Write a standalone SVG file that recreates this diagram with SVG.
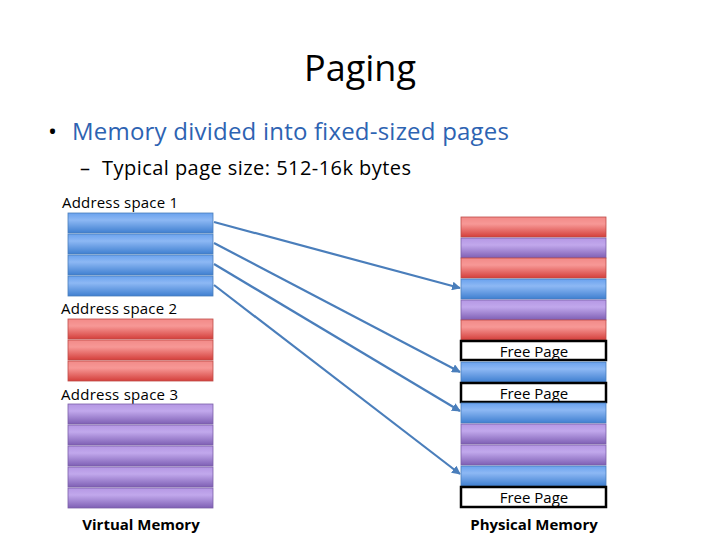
<svg xmlns="http://www.w3.org/2000/svg" width="720" height="540" viewBox="0 0 720 540">
<defs>
<linearGradient id="gb" x1="0" y1="0" x2="0" y2="1"><stop offset="0" stop-color="#6aa2ee"/><stop offset="0.35" stop-color="#8db8f4"/><stop offset="1" stop-color="#3f7fd0"/></linearGradient>
<linearGradient id="gr" x1="0" y1="0" x2="0" y2="1"><stop offset="0" stop-color="#f28a88"/><stop offset="0.35" stop-color="#f79896"/><stop offset="1" stop-color="#d43f3b"/></linearGradient>
<linearGradient id="gp" x1="0" y1="0" x2="0" y2="1"><stop offset="0" stop-color="#b597e4"/><stop offset="0.35" stop-color="#c1a8ec"/><stop offset="1" stop-color="#7e5fb4"/></linearGradient>
<marker id="ah" viewBox="0 0 10 10" refX="9" refY="5" markerWidth="4" markerHeight="4" orient="auto"><path d="M0 0L10 5L0 10z" fill="#4a7ebb"/></marker>
</defs>
<style>
.b{fill:url(#gb);stroke:#4a7ebb;stroke-width:0.8}
.r{fill:url(#gr);stroke:#be4b48;stroke-width:0.8}
.p{fill:url(#gp);stroke:#7a5fa8;stroke-width:0.8}
.f{fill:#fff;stroke:#000;stroke-width:2.5}
.t{font-family:"Open Sans","Liberation Sans",sans-serif;fill:#000}
.c{stroke:#4a7ebb;stroke-width:2.2;fill:none;marker-end:url(#ah)}
</style>
<rect width="720" height="540" fill="#fff"/>
<text class="t" x="360" y="81" font-size="36" text-anchor="middle">Paging</text>
<text class="t" x="48" y="140" font-size="24">•</text>
<text class="t" x="72" y="140" font-size="24" style="fill:#2d63b2" textLength="437">Memory divided into fixed-sized pages</text>
<text class="t" x="80" y="175" font-size="20">–</text>
<text class="t" x="102" y="175" font-size="20" textLength="309">Typical page size: 512-16k bytes</text>
<g id="as1">
<text class="t" x="62" y="208" font-size="15" textLength="116">Address space 1</text>
<rect class="b" x="68" y="213" width="145" height="20"/>
<rect class="b" x="68" y="234" width="145" height="20"/>
<rect class="b" x="68" y="255" width="145" height="20"/>
<rect class="b" x="68" y="276" width="145" height="20"/>
</g>
<g id="as2">
<text class="t" x="61" y="314" font-size="15" textLength="116">Address space 2</text>
<rect class="r" x="68" y="319" width="145" height="20"/>
<rect class="r" x="68" y="340" width="145" height="20"/>
<rect class="r" x="68" y="361" width="145" height="20"/>
</g>
<g id="as3">
<text class="t" x="61" y="400" font-size="15" textLength="117">Address space 3</text>
<rect class="p" x="68" y="404" width="145" height="20"/>
<rect class="p" x="68" y="425" width="145" height="20"/>
<rect class="p" x="68" y="446" width="145" height="20"/>
<rect class="p" x="68" y="467" width="145" height="20"/>
<rect class="p" x="68" y="488" width="145" height="20"/>
<text class="t" x="141" y="530" font-size="15" font-weight="bold" text-anchor="middle">Virtual Memory</text>
</g>
<g id="phys">
<rect class="r" x="461" y="217" width="145" height="20"/>
<rect class="p" x="461" y="238" width="145" height="20"/>
<rect class="r" x="461" y="258" width="145" height="20"/>
<rect class="b" x="461" y="279" width="145" height="20"/>
<rect class="p" x="461" y="300" width="145" height="20"/>
<rect class="r" x="461" y="320" width="145" height="20"/>
<rect class="f" x="461" y="341" width="145" height="19"/>
<text class="t" x="534" y="357" font-size="15" text-anchor="middle">Free Page</text>
<rect class="b" x="461" y="362" width="145" height="20"/>
<rect class="f" x="461" y="383" width="145" height="19"/>
<text class="t" x="534" y="399" font-size="15" text-anchor="middle">Free Page</text>
<rect class="b" x="461" y="403" width="145" height="20"/>
<rect class="p" x="461" y="424" width="145" height="20"/>
<rect class="p" x="461" y="445" width="145" height="20"/>
<rect class="b" x="461" y="466" width="145" height="20"/>
<rect class="f" x="461" y="487" width="145" height="20"/>
<text class="t" x="534" y="503" font-size="15" text-anchor="middle">Free Page</text>
<text class="t" x="534" y="530" font-size="15" font-weight="bold" text-anchor="middle">Physical Memory</text>
</g>
<g id="connectors">
<path class="c" d="M214 222L460 288"/>
<path class="c" d="M214 243L460 372"/>
<path class="c" d="M214 264L460 411"/>
<path class="c" d="M214 285L460 474"/>
</g>
</svg>
